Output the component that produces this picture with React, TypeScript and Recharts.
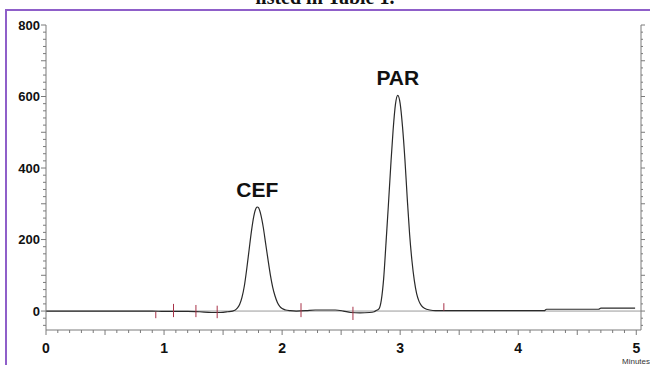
import React from 'react';
import { LineChart, Line, XAxis, YAxis, ReferenceLine, ReferenceDot } from 'recharts';

// retention time (min) and detector response
const times = [
    0.0, 0.5, 0.9, 1.0, 1.1, 1.2, 1.3, 1.4, 1.48, 1.54, 1.58,
    1.6, 1.62, 1.64, 1.66, 1.68, 1.7, 1.72, 1.74, 1.76, 1.78, 1.79, 1.8,
    1.82, 1.84, 1.86, 1.88, 1.9, 1.92, 1.94, 1.96, 1.98, 2.0, 2.03, 2.07,
    2.12, 2.2, 2.28, 2.45, 2.52, 2.58, 2.66, 2.74, 2.78,
    2.8, 2.82, 2.84, 2.86, 2.88, 2.9, 2.92, 2.94, 2.96, 2.98,
    3.0, 3.02, 3.04, 3.06, 3.08, 3.1, 3.12, 3.14, 3.16, 3.18, 3.21, 3.25, 3.3,
    3.4, 3.5, 4.22, 4.24, 4.68, 4.7, 4.99,
];
const signal = [
    0, 0, 0, -1, -1, -1, -2, -4, -4, -2, 0,
    2, 8, 18, 38, 70, 117, 170, 223, 265, 288, 291, 289,
    269, 235, 190, 145, 102, 67, 42, 24, 13, 7, 3, 1,
    0, 1, 3, 3, 0, -4, -5, -4, -2,
    2, 6, 30, 90, 190, 295, 405, 505, 578, 603,
    580, 515, 425, 315, 215, 140, 85, 48, 27, 15, 7, 3, 1,
    1, 1, 1, 5, 5, 8, 8,
];

const peakNames = ['CEF', 'PAR'];
const peakTimes = [1.79, 2.98];
const peakHeights = [291, 603];

// integration event marks: time, top, bottom
const markTimes = [0.93, 1.08, 1.27, 1.45, 2.16, 2.6, 3.37];
const markTops = [-2, 20, 17, 15, 22, 12, 22];
const markBottoms = [-20, -17, -17, -20, -17, -25, 1];

const xLabels = [0, 1, 2, 3, 4, 5];
const yLabels = [0, 200, 400, 600, 800];
const xTicks = Array.from({ length: 51 }, (_, i) => i / 10);
const yTicks = Array.from({ length: 43 }, (_, i) => -40 + i * 20);

const data = times.map((t, i) => ({ t, v: signal[i] }));

const AXIS = '#7a7a7a';
const labelFont = { fontFamily: 'Arial, "Liberation Sans", sans-serif', fontWeight: 700, fill: '#111' };

const near = (a: number, b: number) => Math.abs(a - b) < 1e-6;

const XTick = (props: any) => {
    const { x, y, payload } = props;
    const v = payload.value;
    const half = near(v * 2, Math.round(v * 2));
    const len = half ? 5 : 3;
    const lab = xLabels.find((l) => near(l, v));
    return (
        <g>
            <line x1={x} y1={y} x2={x} y2={y + len} stroke={AXIS} />
            {lab !== undefined && (
                <text x={x} y={y + 23} textAnchor="middle" fontSize={14} {...labelFont}>{lab}</text>
            )}
        </g>
    );
};

const YTickLeft = (props: any) => {
    const { x, y, payload } = props;
    const v = payload.value;
    const len = v % 100 === 0 ? 5 : 3;
    const lab = yLabels.find((l) => l === v);
    return (
        <g>
            <line x1={x - len} y1={y} x2={x} y2={y} stroke={AXIS} />
            {lab !== undefined && (
                <text x={x - 6} y={y} dy="0.35em" textAnchor="end" fontSize={13} {...labelFont}>{lab}</text>
            )}
        </g>
    );
};

const YTickRight = (props: any) => {
    const { x, y, payload } = props;
    const len = payload.value % 100 === 0 ? 4 : 2;
    return <line x1={x} y1={y} x2={x + len} y2={y} stroke={AXIS} />;
};

export default function App() {
    return (
        <div style={{ position: 'fixed', left: 0, top: 0, width: 650, height: 365, overflow: 'hidden', background: '#fff' }}>
            <div
                style={{
                    position: 'absolute', left: 0, right: 0, top: -13, textAlign: 'center',
                    fontFamily: '"Liberation Serif", "Times New Roman", serif', fontWeight: 700,
                    fontSize: 20, lineHeight: '20px', color: '#111',
                }}
            >
                listed in Table 1.
            </div>
            <div
                style={{
                    position: 'absolute', left: 5, top: 9, width: 660, height: 370,
                    borderTop: '2px solid #8f5fc9', borderLeft: '2px solid #8f5fc9',
                }}
            />
            <div style={{ position: 'absolute', left: 0, top: 0 }}>
                <LineChart width={650} height={365} data={data} margin={{ top: 25, right: 5, bottom: 5, left: 0 }}>
                    <XAxis
                        dataKey="t" type="number" domain={[0, 5.04]} allowDataOverflow
                        ticks={xTicks} interval={0} tickSize={0} tickMargin={0} tickLine={false}
                        tick={<XTick />} height={30} stroke={AXIS}
                    />
                    <XAxis
                        xAxisId="top" orientation="top" dataKey="t" type="number" domain={[0, 5.04]}
                        allowDataOverflow tick={false} tickLine={false} height={0} stroke={AXIS}
                    />
                    <YAxis
                        type="number" domain={[-53, 800]} allowDataOverflow ticks={yTicks} interval={0}
                        tickSize={0} tickMargin={0} tickLine={false} tick={<YTickLeft />} width={46} stroke={AXIS}
                    />
                    <YAxis
                        yAxisId="right" orientation="right" type="number" domain={[-53, 800]} allowDataOverflow
                        ticks={yTicks} interval={0} tickSize={0} tickMargin={0} tickLine={false}
                        tick={<YTickRight />} width={4} stroke={AXIS}
                    />
                    <ReferenceLine y={0} stroke="#9a9a9a" strokeWidth={1} />
                    <Line
                        type="monotone" dataKey="v" stroke="#2a2a2a" strokeWidth={1.2}
                        dot={false} activeDot={false} isAnimationActive={false}
                    />
                    {markTimes.map((t, i) => (
                        <ReferenceLine
                            key={'m' + i}
                            segment={[{ x: t, y: markTops[i] }, { x: t, y: markBottoms[i] }]}
                            stroke="#a83248" strokeWidth={1}
                        />
                    ))}
                    {peakNames.map((name, i) => (
                        <ReferenceDot
                            key={name} x={peakTimes[i]} y={peakHeights[i]} r={0} stroke="none" fill="none"
                            label={{ value: name, position: 'top', offset: 10, fontSize: 21, ...labelFont }}
                        />
                    ))}
                </LineChart>
            </div>
            <div
                style={{
                    position: 'absolute', left: 622, top: 357, fontSize: 8,
                    fontFamily: 'Arial, "Liberation Sans", sans-serif', color: '#333',
                }}
            >
                Minutes
            </div>
        </div>
    );
}
